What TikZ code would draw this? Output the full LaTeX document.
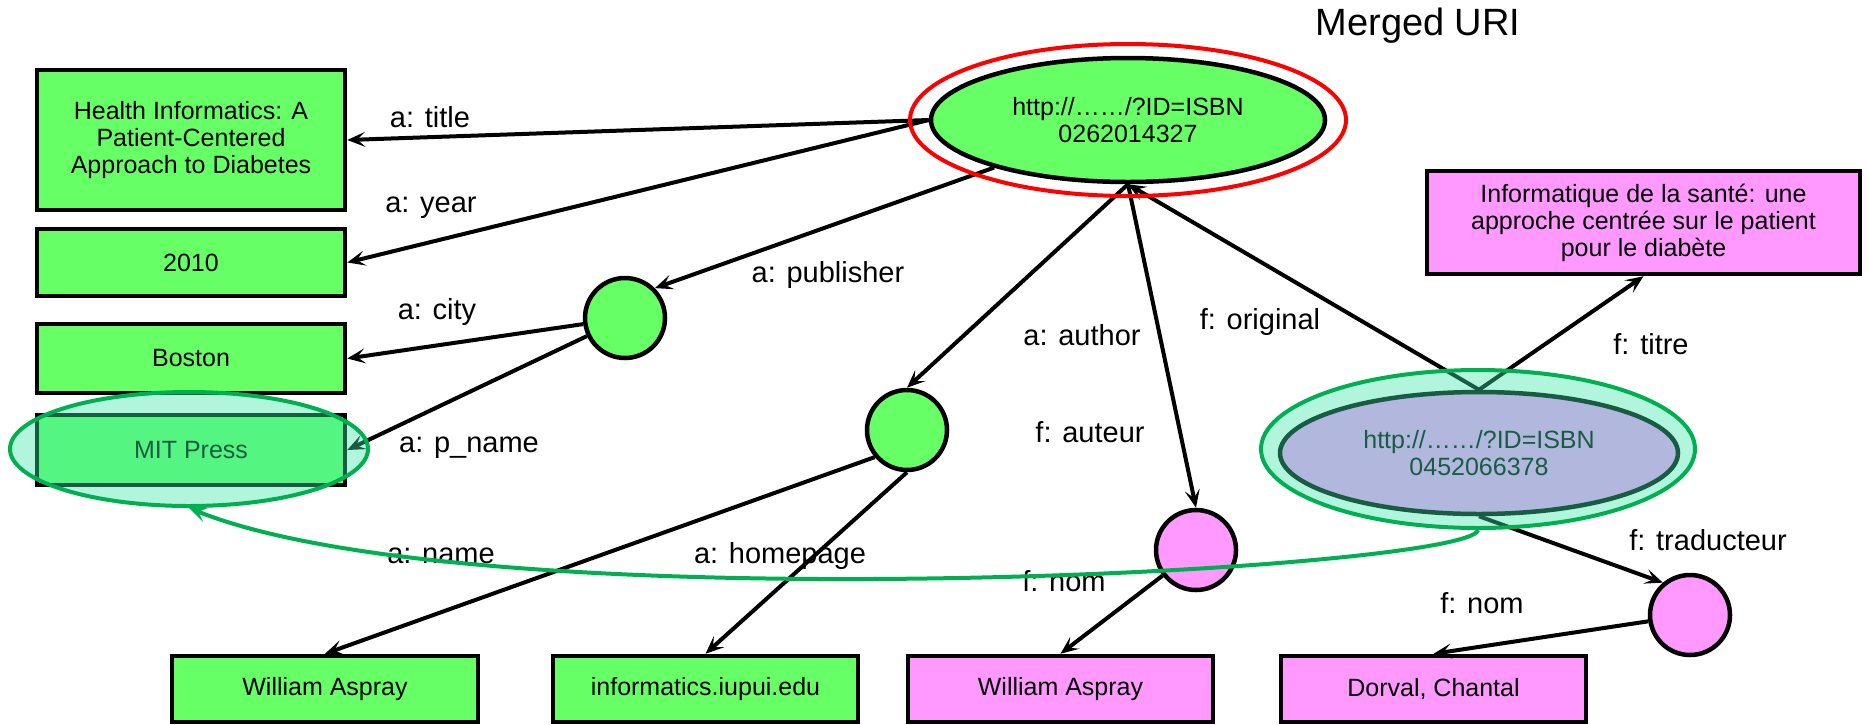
\documentclass[tikz,border=0pt]{standalone}
\usepackage{fontspec}
\setmainfont{Liberation Sans}
\usetikzlibrary{shapes.geometric,arrows.meta}

\definecolor{nodegreen}{RGB}{102,255,102}
\definecolor{nodepink}{RGB}{255,153,255}
\definecolor{ringgreen}{RGB}{0,176,80}
\definecolor{tintmint}{RGB}{60,230,170}

\tikzset{
  boxtext/.style={font=\fontsize{25}{27}\selectfont, align=center},
  litbox/.style={boxtext, rectangle, draw=black, line width=4.5pt, inner sep=0pt,
                 minimum width=308pt},
  gbox/.style={litbox, fill=nodegreen},
  pbox/.style={litbox, fill=nodepink},
  uri/.style={boxtext, ellipse, draw=black, line width=4.5pt, inner sep=0pt},
  blank/.style={circle, draw=black, line width=4.5pt, minimum size=80pt, inner sep=0pt},
  rel/.style={line width=4pt, -{Stealth[length=18pt,width=15pt,inset=8pt]}},
  lbl/.style={font=\fontsize{29}{31}\selectfont, inner sep=0pt},
  sameas/.style={ellipse, draw=ringgreen, line width=4pt, fill=tintmint, fill opacity=0.4,
                 inner sep=0pt},
}

\begin{document}
\begin{tikzpicture}[x=1pt,y=-1pt]
\useasboundingbox (0,0) rectangle (1868,724);

% caption of the merged resource
\node[font=\fontsize{38}{40}\selectfont] (cap) at (1418,26) {Merged URI};

% literals of the English record
\node[gbox, minimum height=140pt] (title) at (191,140) {Health Informatics: A\\Patient-Centered\\Approach to Diabetes};
\node[gbox, minimum height=67pt] (year) at (191,262.5) {2010};
\node[gbox, minimum height=69pt] (city) at (191,358.5) {Boston};
\node[gbox, minimum height=70pt] (press) at (191,450) {MIT Press};

% literals along the bottom
\node[gbox, minimum width=306pt, minimum height=66pt] (aname) at (325,689) {William Aspray};
\node[gbox, minimum width=305pt, minimum height=66pt] (home) at (705.5,689) {informatics.iupui.edu};
\node[pbox, minimum width=305pt, minimum height=66pt] (fname) at (1060.5,689) {William Aspray};
\node[pbox, minimum width=305pt, minimum height=66pt] (tname) at (1433.5,689) {Dorval, Chantal};

% French title
\node[pbox, minimum width=433pt, minimum height=103pt] (titre) at (1643.5,222.5) {Informatique de la santé: une\\approche centrée sur le patient\\pour le diabète};

% resources
\node[uri, fill=nodegreen, minimum width=394pt, minimum height=124pt] (uri1) at (1128,120) {http://……/?ID=ISBN\\0262014327};
\node[uri, fill=nodepink, minimum width=398pt, minimum height=122pt] (uri2) at (1479,453) {http://……/?ID=ISBN\\0452066378};

% blank nodes
\node[blank, fill=nodegreen] (pub) at (625,318) {};
\node[blank, fill=nodegreen] (auth) at (907,430) {};
\node[blank, fill=nodepink] (aut) at (1196,550) {};
\node[blank, fill=nodepink] (trad) at (1690,615) {};

% properties
\draw[rel] (uri1.west) -- (title.east);
\draw[rel] (uri1.west) -- (year.east);
\draw[rel] (uri1) -- (pub.north east);
\draw[rel] (pub) -- (city.east);
\draw[rel] (pub) -- (press.east);
\draw[rel] (uri1.south) -- (auth.north);
\draw[rel] (auth.220) -- (aname.north);
\draw[rel] (auth.south) -- (home.north);
\draw[rel] (uri1.south) -- (aut.north);
\draw[rel] (aut) -- (fname.north);
\draw[rel] (uri2.north) -- (uri1.south);
\draw[rel] (uri2.north) -- (titre.south);
\draw[rel] (uri2.south) -- (trad.130);
\draw[rel] (trad) -- (tname.north);

% property labels
\node[lbl] (l1) at (430,117) {a: title};
\node[lbl] (l2) at (431,208) {a: year};
\node[lbl] (l3) at (437,312) {a: city};
\node[lbl] (l4) at (469,448) {a: p\_name};
\node[lbl] (l5) at (828,275) {a: publisher};
\node[lbl] (l6) at (1082,335) {a: author};
\node[lbl] (l7) at (1260,322) {f: original};
\node[lbl] (l8) at (1651,344) {f: titre};
\node[lbl] (l9) at (1090,432) {f: auteur};
\node[lbl] (l10) at (441,556) {a: name};
\node[lbl] (l11) at (780,556) {a: homepage};
\node[lbl] (l12) at (1064,581) {f: nom};
\node[lbl] (l13) at (1708,540) {f: traducteur};
\node[lbl] (l14) at (1482,603) {f: nom};

% merged resource ring
\draw[red, line width=4pt] (uri1.center) ellipse [x radius=218pt, y radius=76pt];

% identical publishers
\node[sameas, minimum width=358pt, minimum height=114pt] (same1) at (189,449) {};
\node[sameas, minimum width=434pt, minimum height=158pt] (same2) at (1478,449) {};
\draw[ringgreen, line width=4pt, -{Stealth[length=18pt,width=15pt,inset=8pt]}]
  (same2.south) .. controls (1470,570) and (480,625) .. (same1.south);
\end{tikzpicture}
\end{document}
